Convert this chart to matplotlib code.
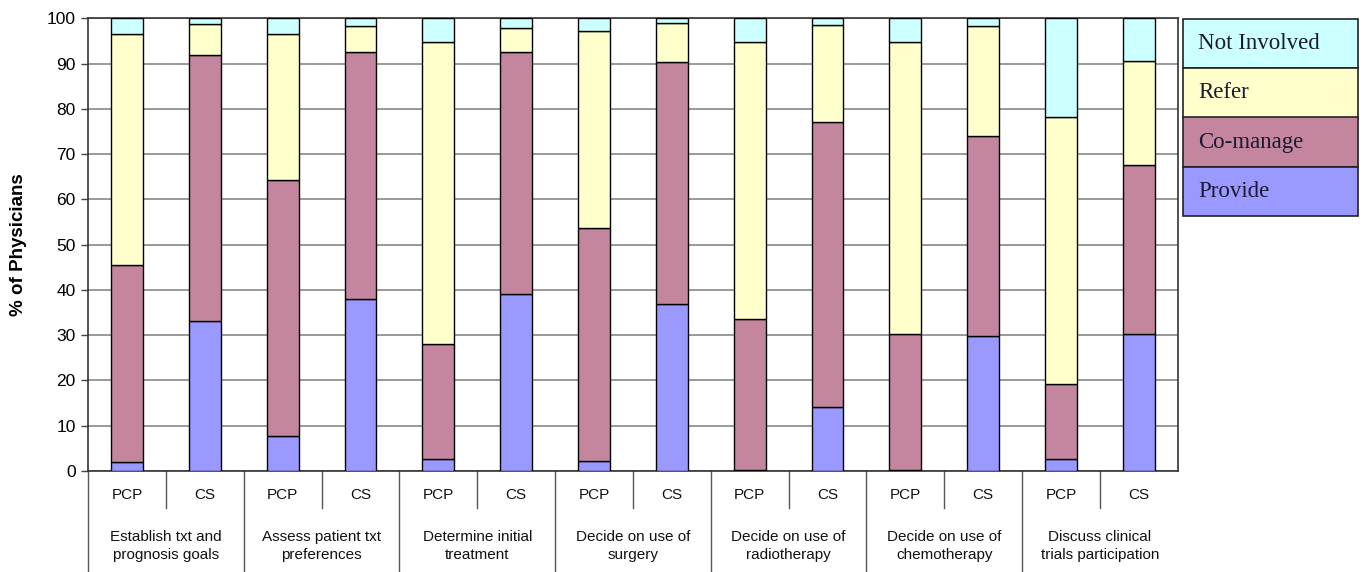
import matplotlib.pyplot as plt
import matplotlib.transforms as mtransforms
from matplotlib.lines import Line2D
from matplotlib.patches import Rectangle
import numpy as np

groups = ['Establish txt and\nprognosis goals', 'Assess patient txt\npreferences',
          'Determine initial\ntreatment', 'Decide on use of\nsurgery',
          'Decide on use of\nradiotherapy', 'Decide on use of\nchemotherapy',
          'Discuss clinical\ntrials participation']
subgroups = ['PCP', 'CS']

# percentages per bar (PCP, CS alternating)
provide = [2.0, 33.2, 7.8, 38.1, 2.7, 39.2, 2.3, 36.9, 0.3, 14.1, 0.3, 29.9, 2.7, 30.3]
comanage = [43.6, 58.7, 56.4, 54.5, 25.3, 53.4, 51.3, 53.4, 33.3, 63.0, 30.0, 44.2, 16.6, 37.2]
refer = [50.9, 6.8, 32.3, 5.7, 66.8, 5.3, 43.6, 8.6, 61.2, 21.5, 64.5, 24.1, 59.0, 23.1]
not_involved = [3.5, 1.3, 3.5, 1.7, 5.2, 2.1, 2.8, 1.1, 5.2, 1.4, 5.2, 1.8, 21.7, 9.4]

series = ['Provide', 'Co-manage', 'Refer', 'Not Involved']
colors = ['#9999FF', '#C4869F', '#FFFFCC', '#CCFFFF']

plt.rcParams['font.family'] = ['Liberation Sans', 'DejaVu Sans']

fig = plt.figure(figsize=(13.65, 5.72), dpi=100)
ax = fig.add_axes([0.0645, 0.1766, 0.7983, 0.7914])

x = np.arange(len(provide))
bottom = np.zeros(len(provide))
for name, vals, c in zip(series, [provide, comanage, refer, not_involved], colors):
    ax.bar(x, vals, width=0.41, bottom=bottom, color=c, edgecolor='black',
           linewidth=1.0, zorder=3, label=name)
    bottom += np.array(vals)

ax.set_xlim(-0.5, len(provide) - 0.5)
ax.set_ylim(0, 100)
ax.set_yticks(range(0, 101, 10))
ax.tick_params(axis='y', labelsize=12.5, length=5, width=1, color='#444444', pad=4)
ax.set_xticks([])
ax.yaxis.grid(True, color='#888888', linewidth=1.2, zorder=0)
for s in ax.spines.values():
    s.set_color('#333333')
    s.set_linewidth(1.2)
ax.set_ylabel('% of Physicians', fontsize=13.5, fontweight='bold', labelpad=14)

# category table below the axis
trans = mtransforms.blended_transform_factory(ax.transData, ax.transAxes)
ppu = 452.7  # axes height in pixels
for i in range(len(provide)):
    ax.text(x[i], -24 / ppu, subgroups[i % 2],
            transform=trans, ha='center', va='center', fontsize=11, color='#111111')
for i in range(len(provide) // 2):
    ax.add_line(Line2D([2 * i + 0.5, 2 * i + 0.5], [0, -37 / ppu], transform=trans,
                       color='#555555', linewidth=1, clip_on=False))
    ax.add_line(Line2D([2 * i - 0.5, 2 * i - 0.5], [0, -101 / ppu], transform=trans,
                       color='#555555', linewidth=1, clip_on=False))
    ax.text(2 * i + 0.5, -75 / ppu, groups[i], transform=trans, ha='center',
            va='center', fontsize=11, linespacing=1.45, color='#111111')

# legend drawn as stacked labelled boxes
leg_names = ['Not Involved', 'Refer', 'Co-manage', 'Provide']
leg_colors = ['#CCFFFF', '#FFFFCC', '#C4869F', '#9999FF']
lx0, lx1 = 1183 / 1365, 1358 / 1365
ly_top, ly_bot = 1 - 19 / 572, 1 - 216 / 572
h = (ly_top - ly_bot) / 4
for k, (nm, c) in enumerate(zip(leg_names, leg_colors)):
    y0 = ly_top - (k + 1) * h
    fig.add_artist(Rectangle((lx0, y0), lx1 - lx0, h, transform=fig.transFigure,
                             facecolor=c, edgecolor='#222222', linewidth=1.2))
    fig.text(lx0 + 0.011, y0 + h / 2, nm, ha='left', va='center', fontsize=16.5,
             family='Liberation Serif', color='#1a1a33')

fig.savefig('out.png', dpi=100)
